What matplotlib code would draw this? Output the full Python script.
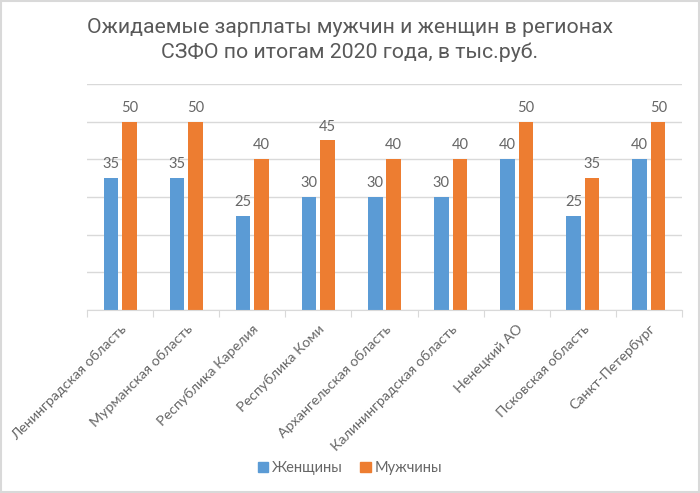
import matplotlib
matplotlib.use("Agg")
import matplotlib.pyplot as plt
import numpy as np
from matplotlib.patches import Rectangle

categories = ["Ленинградская область", "Мурманская область", "Республика Карелия",
              "Республика Коми", "Архангельская область", "Калининградская область",
              "Ненецкий АО", "Псковская область", "Санкт-Петербург"]
women = [35, 35, 25, 30, 30, 30, 40, 25, 40]
men = [50, 50, 40, 45, 40, 40, 50, 35, 50]
series_names = ["Женщины", "Мужчины"]
title = "Ожидаемые зарплаты мужчин и женщин в регионах\nСЗФО по итогам 2020 года, в тыс.руб."

BLUE = "#5B9BD5"
ORANGE = "#ED7D31"
GRAY = "#595959"
FONT = ["Lato", "DejaVu Sans"]

fig = plt.figure(figsize=(7.0, 4.93), dpi=100)
ax = fig.add_axes([87/700, 1-310/493, (682-87)/700, (310-84)/493])

x = np.arange(len(categories))
w = 0.22
off = 0.14
b1 = ax.bar(x - off, women, w, color=BLUE, label=series_names[0], zorder=3)
b2 = ax.bar(x + off, men, w, color=ORANGE, label=series_names[1], zorder=3)

for bars, vals in ((b1, women), (b2, men)):
    for r, v in zip(bars, vals):
        ax.annotate(str(v), (r.get_x() + r.get_width()/2, v), xytext=(0, 5),
                    textcoords="offset points", ha="center", va="bottom",
                    fontsize=10.5, color="#666666", family=FONT)

ax.set_xlim(-0.5, len(categories) - 0.5)
ax.set_ylim(0, 60)
ax.set_yticks(np.arange(0, 61, 10))
ax.yaxis.grid(True, color="#D9D9D9", linewidth=1, zorder=0)
ax.tick_params(axis="y", left=False, labelleft=False)
for s in ["top", "right", "left"]:
    ax.spines[s].set_visible(False)
ax.spines["bottom"].set_color("#D9D9D9")
ax.spines["bottom"].set_zorder(4)

ax.set_xticks(np.arange(-0.5, len(categories)), minor=False)
ax.set_xticklabels([])
ax.tick_params(axis="x", which="major", length=5, color="#D9D9D9", direction="out")
ax.set_xticks(x, minor=True)
ax.set_xticklabels(categories, minor=True, rotation=45, ha="right",
                   rotation_mode="anchor", fontsize=10.3, color="#666666", family=FONT)
ax.tick_params(axis="x", which="minor", length=0, pad=9)

fig.text(0.5, 1-40/493, title, ha="center", va="center", fontsize=15.3,
         color=GRAY, family=["Roboto", "DejaVu Sans"], fontweight="normal",
         linespacing=1.3)

handles = [Rectangle((0, 0), 1, 1, color=BLUE), Rectangle((0, 0), 1, 1, color=ORANGE)]
leg = fig.legend(handles, series_names, loc="center", bbox_to_anchor=(0.5, 1-468/493),
                 ncol=2, frameon=False, handlelength=0.7, handleheight=0.7,
                 handletextpad=0.3, columnspacing=1.2, prop={"family": FONT, "size": 10.5})
for t in leg.get_texts():
    t.set_color("#666666")

fig.patches.append(Rectangle((0.002, 0.002), 0.996, 0.996, transform=fig.transFigure,
                             fill=False, edgecolor="#D9D9D9", linewidth=1.5))

fig.savefig("out.png", dpi=100, facecolor="white")
